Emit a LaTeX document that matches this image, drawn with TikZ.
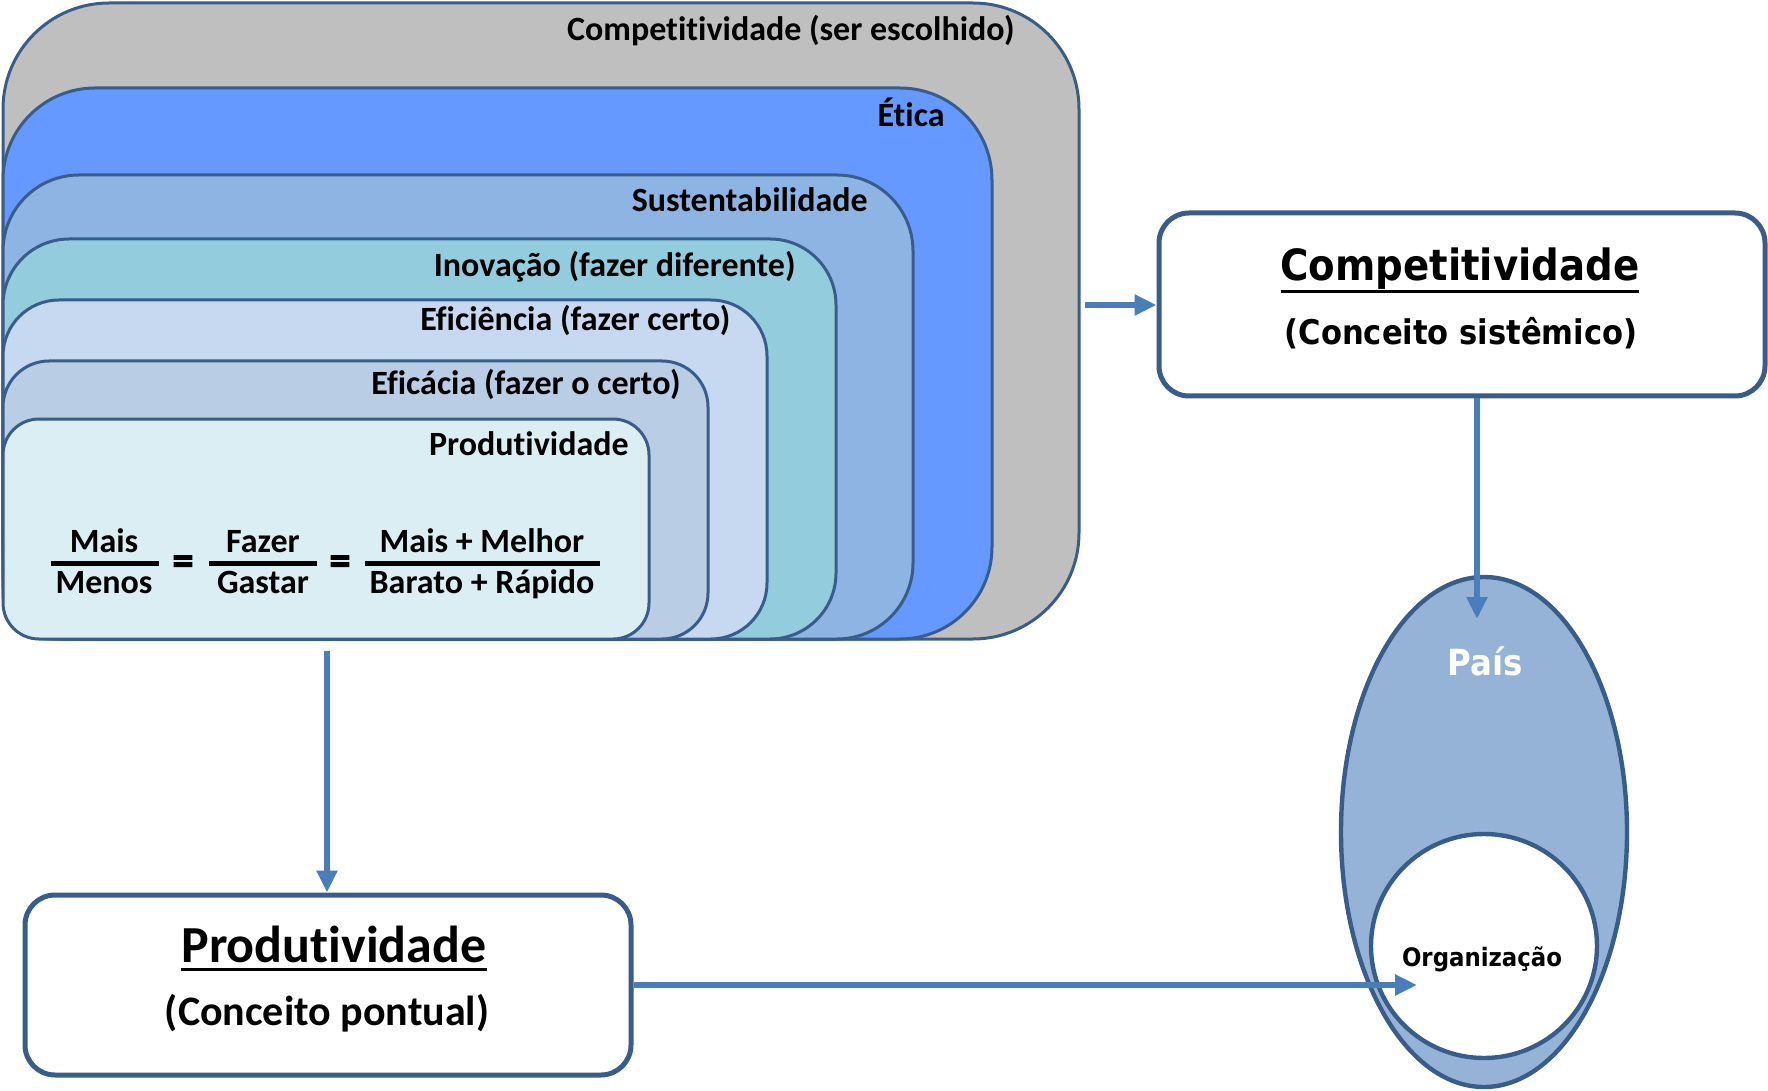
\documentclass[tikz,border=0pt]{standalone}
\usepackage{fontspec}
\setmainfont{Carlito}[Ligatures=NoCommon]
\newfontfamily\largafont{DejaVu Sans Condensed}
\newfontfamily\igualfont{Carlito}[FakeBold=2.5]
\usetikzlibrary{arrows.meta,shapes.geometric}

\definecolor{bordo}{HTML}{385D8A}
\definecolor{seta}{HTML}{4A7EBB}
\definecolor{cinza}{HTML}{BFBFBF}
\definecolor{etica}{HTML}{6699FF}
\definecolor{sust}{HTML}{8EB4E3}
\definecolor{inov}{HTML}{93CDDD}
\definecolor{efic}{HTML}{C6D9F1}
\definecolor{eficaz}{HTML}{B9CDE5}
\definecolor{produt}{HTML}{DBEEF4}
\definecolor{paiscor}{HTML}{95B3D7}

% sublinhado grosso: texto, descida, espessura
\newcommand{\sublinha}[3]{\setbox0\hbox{#1}\rlap{\rule[-#2]{\wd0}{#3}}\box0}

\begin{document}
\begin{tikzpicture}[x=0.5pt,y=-0.5pt]
\tikzstyle{every node}+=[inner sep=0pt]
\tikzstyle{layer}=[draw=bordo, line width=1.5pt]
\tikzstyle{tag}=[anchor=base east, font=\bfseries\fontsize{17}{20}\selectfont]
\tikzstyle{fracpart}=[anchor=base, font=\bfseries\fontsize{17}{20}\selectfont]
\tikzstyle{fracbar}=[line width=2.5pt]
\tikzstyle{igual}=[font=\igualfont\bfseries\fontsize{21}{24}\selectfont]
\tikzstyle{concbox}=[draw=bordo, line width=2.5pt, rounded corners=15pt, fill=white, minimum width=303pt, minimum height=90pt]
\tikzstyle{conn}=[draw=seta, line width=2.8pt, -{Triangle[length=11pt,width=10pt]}]
\useasboundingbox (0,0) rectangle (1768,1091);

% camadas
\draw [layer, fill=cinza, rounded corners=53pt] (3,3) rectangle (1079,639);
\draw [layer, fill=etica, rounded corners=46pt] (3,88) rectangle (992,639);
\draw [layer, fill=sust, rounded corners=38pt] (3,175) rectangle (913,639);
\draw [layer, fill=inov, rounded corners=33pt] (3,239) rectangle (836,639);
\draw [layer, fill=efic, rounded corners=28pt] (3,300) rectangle (767,639);
\draw [layer, fill=eficaz, rounded corners=23pt] (3,361) rectangle (708,639);
\draw [layer, fill=produt, rounded corners=18pt] (3,419) rectangle (649,639);

\node [tag] (tcomp) at (1015,41) {Competitividade (ser escolhido)};
\node [tag] (tetica) at (945,127) {Ética};
\node [tag] (tsust) at (868,212) {Sustentabilidade};
\node [tag] (tinov) at (796,277) {Inovação (fazer diferente)};
\node [tag] (tefic) at (731,331) {Eficiência (fazer certo)};
\node [tag] (teficaz) at (681,394) {Eficácia (fazer o certo)};
\node [tag] (tprod) at (629,455) {Produtividade};

% formula
\node [fracpart] (num1) at (104,552) {Mais};
\node [fracpart] (den1) at (104,593) {Menos};
\draw [fracbar] (51,563) -- (159,563);
\node [igual] (igual1) at (183,565) {=};
\node [fracpart] (num2) at (263,552) {Fazer};
\node [fracpart] (den2) at (263,593) {Gastar};
\draw [fracbar] (209,563) -- (317,563);
\node [igual] (igual2) at (340,565) {=};
\node [fracpart] (num3) at (482,552) {Mais + Melhor};
\node [fracpart] (den3) at (482,593) {Barato + Rápido};
\draw [fracbar] (365,563) -- (600,563);

% caixas de conceito
\node [concbox, minimum height=91.5pt] (comp) at (1462,304.5) {};
\node [anchor=base, font=\largafont\bfseries\fontsize{21.5}{26}\selectfont] (comptit) at (1460,281) {\sublinha{Competitividade}{6pt}{1.6pt}};
\node [anchor=base, font=\largafont\bfseries\fontsize{17}{20}\selectfont] (compsub) at (1461,344) {(Conceito sistêmico)};

\node [concbox] (prod) at (328,985) {};
\node [anchor=base, font=\bfseries\fontsize{26}{30}\selectfont] (prodtit) at (334,962) {\sublinha{Produtividade}{4.6pt}{1.8pt}};
\node [anchor=base, font=\bfseries\fontsize{21}{25}\selectfont] (prodsub) at (327,1025) {(Conceito pontual)};

% pais e organizacao
\node [draw=bordo, line width=2.2pt, fill=paiscor, ellipse, minimum width=143pt, minimum height=255pt] (pais) at (1484,832) {};
\node [anchor=base, text=white, font=\largafont\bfseries\fontsize{18}{22}\selectfont] (paistxt) at (1485,675) {País};
\node [draw=bordo, line width=2.2pt, fill=white, ellipse, minimum width=113pt, minimum height=112pt] (org) at (1484,946) {};
\node [anchor=base, font=\largafont\bfseries\fontsize{12.7}{15}\selectfont] (orgtxt) at (1482,966) {Organização};

% setas
\coordinate (compsaida) at (1085,305);
\coordinate (prodsaida) at (327,651);
\coordinate (paisseta) at (1477,619);
\coordinate (orgseta) at (1417,985);
\draw [conn] (compsaida) -- (compsaida -| comp.west);
\draw [conn] (prodsaida) -- (prodsaida |- prod.north);
\draw [conn] (paisseta |- comp.south) -- (paisseta);
\draw [conn] (prod.east |- orgseta) -- (orgseta);
\end{tikzpicture}
\end{document}
